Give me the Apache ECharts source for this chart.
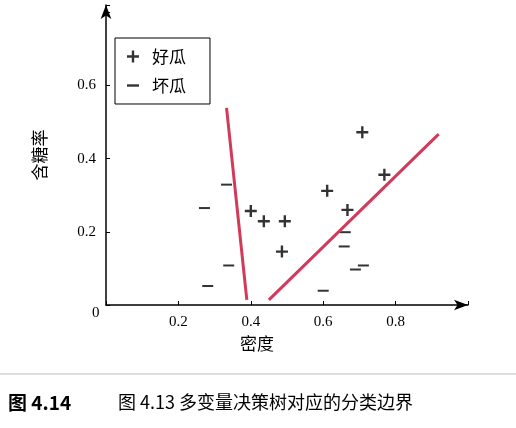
<!DOCTYPE html>
<html>
<head>
<meta charset="utf-8">
<script src="https://cdn.jsdelivr.net/npm/echarts@6/dist/echarts.min.js"></script>
<style>html,body{margin:0;padding:0;background:#fff}#main{width:516px;height:428px}</style>
</head>
<body>
<div id="main"></div>
<script>
var goodMelon = [[0.40,0.257],[0.436,0.229],[0.494,0.229],[0.486,0.146],[0.611,0.312],[0.667,0.26],[0.708,0.472],[0.769,0.356]];
var badMelon = [[0.272,0.265],[0.333,0.329],[0.339,0.108],[0.281,0.052],[0.661,0.199],[0.658,0.16],[0.689,0.097],[0.711,0.108],[0.60,0.039]];
var boundary1 = [[0.333,0.539],[0.389,0.014]];
var boundary2 = [[0.45,0.014],[0.919,0.467]];
var xTicks = ['0.2', '0.4', '0.6', '0.8'];
var yTicks = ['0.2', '0.4', '0.6'];

var serif = 'Liberation Serif';
var cjk = 'Noto Sans CJK SC';
var plus = 'path://M4,0H6V4H10V6H6V10H4V6H0V4H4Z';
var myChart = echarts.init(document.getElementById('main'));
var option = {
    animation: false,
    grid: { left: 106, top: 5, right: 48, bottom: 123 },
    legend: {
        orient: 'vertical', left: 115, top: 38, itemGap: 12,
        borderColor: '#000', borderWidth: 1, padding: [10, 24, 10, 12],
        itemWidth: 12, itemHeight: 12,
        textStyle: { fontFamily: cjk, fontSize: 17, color: '#000', padding: [0, 0, 0, 8] },
        data: [
            { name: '好瓜', icon: plus, itemStyle: { color: '#000' } },
            { name: '坏瓜', icon: 'path://M0,4H10V6H0Z', itemStyle: { color: '#000' } }
        ]
    },
    xAxis: {
        type: 'value', min: 0, max: 1.0, interval: 0.2,
        name: '密度', nameLocation: 'middle', nameGap: 30,
        nameTextStyle: { fontFamily: cjk, fontSize: 17, color: '#000', padding: [0, 60, 0, 0] },
        axisLine: { lineStyle: { color: '#000', width: 1.5 }, symbol: ['none', 'arrow'], symbolSize: [8, 14] },
        axisTick: { show: true, inside: true, length: 4, lineStyle: { color: '#000' } },
        splitLine: { show: false },
        axisLabel: {
            fontFamily: serif, fontSize: 15, color: '#000', margin: 10,
            formatter: function (v) { var s = v.toFixed(1); return xTicks.indexOf(s) >= 0 ? s : ''; }
        }
    },
    yAxis: {
        type: 'value', min: 0, max: 0.82, interval: 0.2,
        name: '含糖率', nameLocation: 'middle', nameGap: 58, nameRotate: 90,
        nameTextStyle: { fontFamily: cjk, fontSize: 17, color: '#000' },
        axisLine: { lineStyle: { color: '#000', width: 1.5 }, symbol: ['none', 'arrow'], symbolSize: [8, 14] },
        axisTick: { show: true, inside: true, length: 4, lineStyle: { color: '#000' } },
        splitLine: { show: false },
        axisLabel: {
            fontFamily: serif, fontSize: 15, color: '#000', margin: 10,
            formatter: function (v) { var s = v.toFixed(1); return yTicks.indexOf(s) >= 0 ? s : ''; }
        }
    },
    series: [{
        name: '好瓜', type: 'scatter', data: goodMelon,
        symbol: plus, symbolSize: 12, itemStyle: { color: '#000' }
    }, {
        name: '坏瓜', type: 'scatter', data: badMelon,
        symbol: 'rect', symbolSize: [11, 2], itemStyle: { color: '#000' }
    }, {
        type: 'line', data: boundary1, symbol: 'none',
        lineStyle: { color: '#d23a5a', width: 3 }
    }, {
        type: 'line', data: boundary2, symbol: 'none',
        lineStyle: { color: '#d23a5a', width: 3 }
    }],
    graphic: [
        { type: 'text', left: 92, top: 306, style: { text: '0', font: '15px ' + serif, fill: '#000' } },
        { type: 'line', shape: { x1: 0, y1: 374, x2: 516, y2: 374 }, style: { stroke: '#bbb', lineWidth: 1 } },
        { type: 'text', left: 8, top: 393, style: { text: '图 4.14', font: 'bold 19px ' + cjk, fill: '#000' } },
        { type: 'text', left: 118, top: 393, style: { text: '图 4.13 多变量决策树对应的分类边界', font: '18px ' + cjk, fill: '#000' } }
    ]
};
myChart.setOption(option);
</script>
</body>
</html>
